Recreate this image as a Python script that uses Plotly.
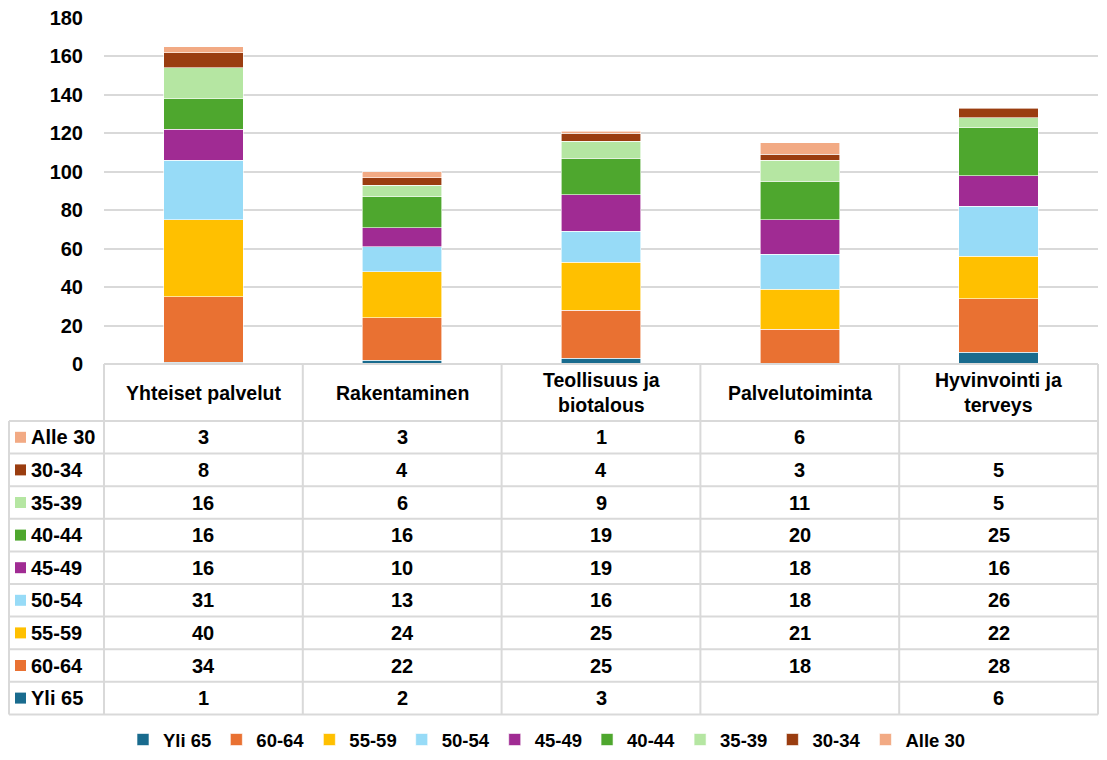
import plotly.graph_objects as go

categories = ["Yhteiset palvelut", "Rakentaminen", "Teollisuus ja biotalous",
              "Palvelutoiminta", "Hyvinvointi ja terveys"]
header_labels = ["Yhteiset palvelut", "Rakentaminen", "Teollisuus ja<br>biotalous",
                 "Palvelutoiminta", "Hyvinvointi ja<br>terveys"]
series_names = ["Yli 65", "60-64", "55-59", "50-54", "45-49", "40-44", "35-39", "30-34", "Alle 30"]
yli_65 = [1, 2, 3, None, 6]
v60_64 = [34, 22, 25, 18, 28]
v55_59 = [40, 24, 25, 21, 22]
v50_54 = [31, 13, 16, 18, 26]
v45_49 = [16, 10, 19, 18, 16]
v40_44 = [16, 16, 19, 20, 25]
v35_39 = [16, 6, 9, 11, 5]
v30_34 = [8, 4, 4, 3, 5]
alle_30 = [3, 3, 1, 6, None]
series_values = [yli_65, v60_64, v55_59, v50_54, v45_49, v40_44, v35_39, v30_34, alle_30]
colors = ["#196B8E", "#E97132", "#FFC000", "#97DBF7", "#A02B93",
          "#4EA72E", "#B5E6A2", "#9A3D10", "#F2AA84"]
y_ticks = [0, 20, 40, 60, 80, 100, 120, 140, 160, 180]

FONT = "Liberation Sans"
FS = 20
OFF = 8  # browser body margin
W, H = 1107 - 2 * OFF, 760 - 2 * OFF
# plot area in screen pixels
L, R, T, B = 104, 1098, 18, 364


def px(x):
    return (x - L) / (R - L)


def py(y):
    return (B - y) / (B - T)


fig = go.Figure()
for name, vals, col in zip(series_names, series_values, colors):
    fig.add_trace(go.Bar(
        name=name, x=list(range(len(categories))), y=vals,
        marker=dict(color=col, line=dict(color="white", width=0.6)),
        width=0.4, hovertext=categories,
    ))

shapes = []
annotations = []
grid = dict(type="line", xref="paper", yref="paper",
            line=dict(color="#D9D9D9", width=2), layer="above")
ncol = len(categories)
colw = (R - L) / ncol
row_top = 421
row_h = 32.6
nrows = len(series_names)
table_bottom = row_top + nrows * row_h

# horizontal lines
shapes.append(dict(grid, x0=px(L), x1=px(R), y0=py(B), y1=py(B)))
for i in range(nrows + 1):
    yy = row_top + i * row_h
    shapes.append(dict(grid, x0=px(9), x1=px(R), y0=py(yy), y1=py(yy)))
# vertical lines
shapes.append(dict(grid, x0=px(9), x1=px(9), y0=py(row_top), y1=py(table_bottom)))
for j in range(ncol + 1):
    xx = L + j * colw
    shapes.append(dict(grid, x0=px(xx), x1=px(xx), y0=py(B), y1=py(table_bottom)))

# header
for j, lab in enumerate(header_labels):
    annotations.append(dict(
        x=px(L + (j + 0.5) * colw), y=py((B + row_top) / 2), xref="paper", yref="paper",
        text=lab, showarrow=False, xanchor="center", yanchor="middle",
        font=dict(family=FONT, size=19.5, color="black", weight="bold")))

# rows (top: Alle 30 ... bottom: Yli 65)
for r, k in enumerate(reversed(range(nrows))):
    yc = row_top + (r + 0.5) * row_h
    shapes.append(dict(type="rect", xref="paper", yref="paper",
                       x0=px(15), x1=px(26), y0=py(yc - 5.5), y1=py(yc + 5.5),
                       fillcolor=colors[k], line=dict(width=0)))
    annotations.append(dict(
        x=px(29), y=py(yc), xref="paper", yref="paper", text=series_names[k],
        showarrow=False, xanchor="left", yanchor="middle",
        font=dict(family=FONT, size=FS, color="black", weight="bold")))
    for j in range(ncol):
        v = series_values[k][j]
        annotations.append(dict(
            x=px(L + (j + 0.5) * colw), y=py(yc), xref="paper", yref="paper",
            text="" if v is None else str(v), showarrow=False,
            xanchor="center", yanchor="middle",
            font=dict(family=FONT, size=FS, color="black", weight="bold")))

fig.update_layout(
    width=W, height=H,
    margin=dict(l=L - OFF, r=W - (R - OFF), t=T - OFF, b=H - (B - OFF), pad=0,
                autoexpand=False),
    barmode="stack",
    plot_bgcolor="white", paper_bgcolor="white",
    font=dict(family=FONT, size=FS, color="black"),
    xaxis=dict(range=[-0.5, ncol - 0.5], showticklabels=False, showgrid=False,
               zeroline=False, showline=False, fixedrange=True),
    yaxis=dict(range=[0, 180], tickvals=y_ticks, showgrid=True, gridcolor="#D9D9D9",
               gridwidth=2, zeroline=False, showline=False, ticks="",
               ticklabelstandoff=20, ticklabeloverflow="allow",
               tickfont=dict(family=FONT, size=FS, color="black", weight="bold")),
    showlegend=True,
    legend=dict(orientation="h", traceorder="normal", x=px(123), xanchor="left",
                y=py(740), yanchor="middle", itemwidth=30,
                font=dict(family=FONT, size=18.5, color="black", weight="bold")),
    shapes=shapes, annotations=annotations,
)

fig.write_html("out.html")
